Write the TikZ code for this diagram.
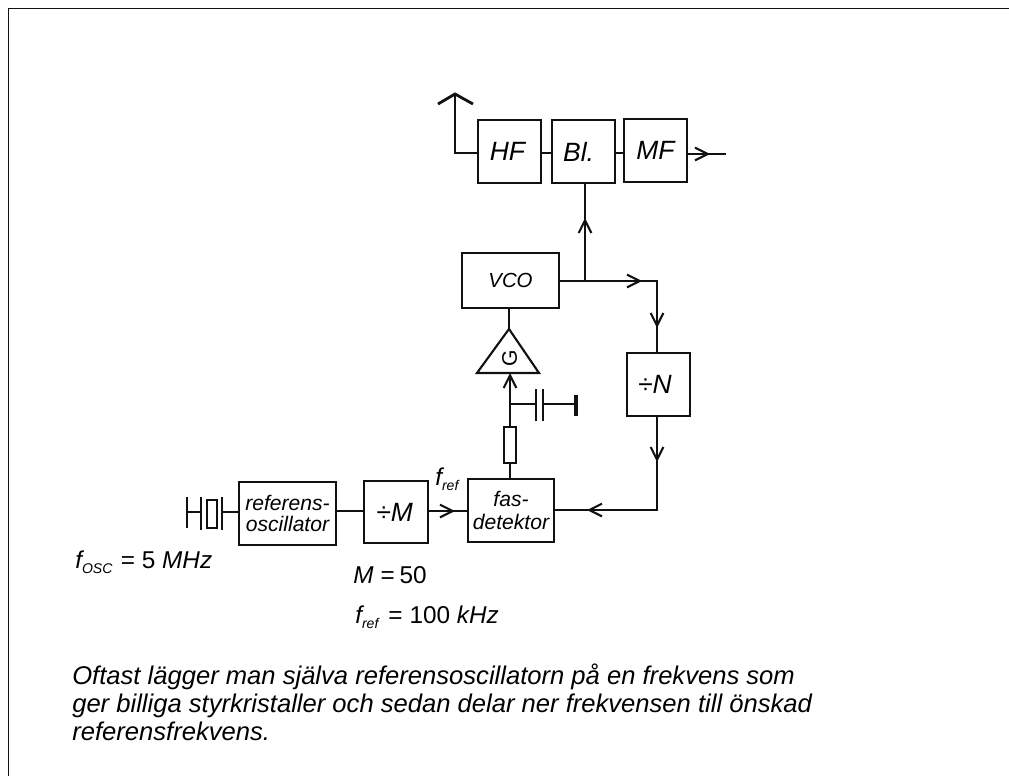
\documentclass[tikz,border=0pt]{standalone}
\usepackage{fontspec}
\setmainfont{Liberation Sans}
\usetikzlibrary{arrows.meta}
\definecolor{wireblack}{HTML}{111111}

\begin{document}
\begin{tikzpicture}[x=0.025cm,y=-0.025cm]
  \tikzset{
    wire/.style={draw=wireblack,line width=1.5pt},
    flow/.style={wire,-{Straight Barb[length=9pt,width=9pt]}},
    block/.style={wire,inner sep=0pt,align=center,font=\itshape\fontsize{18.8}{20}\selectfont},
    smallblock/.style={block,font=\itshape\fontsize{15}{15.4}\selectfont},
    formula/.style={anchor=base west,inner sep=0pt,font=\itshape\fontsize{17.3}{19}\selectfont},
    note/.style={anchor=base west,inner sep=0pt,font=\itshape\fontsize{18.2}{20}\selectfont},
  }
  \newcommand{\lowidx}[1]{\raisebox{-4pt}{\fontsize{10}{10}\selectfont #1}}
  \useasboundingbox (0,0) rectangle (1009,776);

  % Frame, runs off at the right and the bottom.
  \draw[wire,line width=0.9pt] (8.5,776) -- (8.5,8.5) -- (1009,8.5);

  % Receiver chain.
  \node[block,minimum width=63*0.71pt,minimum height=63*0.71pt] (hf) at (509.5,151.5) {HF\hspace{3pt}};
  \node[block,minimum width=63*0.71pt,minimum height=63*0.71pt] (bl) at (583.5,151.5) {Bl.\hspace{7pt}};
  \node[block,minimum width=63*0.71pt,minimum height=63*0.71pt] (mf) at (655.5,150.5) {MF};
  \node[smallblock,font=\itshape\fontsize{14.5}{15}\selectfont,minimum width=97*0.71pt,minimum height=55*0.71pt] (vco) at (510.5,280.5) {VCO};
  \node[block,minimum width=63*0.71pt,minimum height=63*0.71pt] (divn) at (658.5,384.5) {÷N\hspace{5pt}};

  % Reference branch.
  \node[smallblock,minimum width=97*0.71pt,minimum height=63*0.71pt] (refosc) at (287.5,513.5) {referens-\\oscillator};
  \node[block,minimum width=64*0.71pt,minimum height=62*0.71pt] (divm) at (396,512) {÷M\hspace{2pt}};
  \node[smallblock,font=\itshape\fontsize{15}{16.2}\selectfont,minimum width=86*0.71pt,minimum height=63*0.71pt] (fasdet) at (511,510.5) {fas-\\detektor\hspace{2pt}};

  % Amplifier.
  \coordinate (gtop) at (509,329);
  \coordinate (gleft) at (477,373);
  \coordinate (gright) at (539,373);
  \draw[wire,line join=miter] (gtop) -- (gright) -- (gleft) -- cycle;
  \node[rotate=90,inner sep=0pt,font=\fontsize{15}{15}\selectfont] (gain) at (509.5,358) {G};
  \draw[wire] (vco.south -| gtop) -- (gtop);

  % Loop filter.
  \node[wire,inner sep=0pt,minimum width=12*0.71pt,minimum height=36*0.71pt] (res) at (510,445) {};
  \coordinate (gin) at (510,373);
  \coordinate (capjoin) at (510,404);
  \coordinate (capa) at (536,404);
  \coordinate (capb) at (543,404);
  \coordinate (earth) at (574,404);
  \draw[wire] (fasdet.north -| res) -- (res.south);
  \draw[flow] (res.north) -- (gin);
  \draw[wire] (capjoin) -- (capa);
  \draw[wire] (capb) -- (earth);
  \draw[wire] (536,389) -- (536,421);
  \draw[wire] (543,389) -- (543,421);
  \draw[draw=wireblack,line width=3pt] (576,395) -- (576,416);

  % Antenna.
  \coordinate (anttop) at (455,94);
  \coordinate (antfoot) at (455,153);
  \draw[wire,line width=2pt] (438,104) -- (anttop) -- (473,104);
  \draw[wire] (anttop) -- (antfoot) -- (hf.west |- antfoot);

  % Signal path.
  \draw[wire] (hf.east |- antfoot) -- (bl.west |- antfoot);
  \draw[wire] (bl.east |- antfoot) -- (mf.west |- antfoot);
  \coordinate (outtip) at (710,154);
  \coordinate (outend) at (726,154);
  \draw[wire] (mf.east |- outtip) -- (outend);
  \draw[flow] (mf.east |- outtip) -- (outtip);

  % Oscillator to mixer and divider.
  \coordinate (vcojoin) at (585,281);
  \coordinate (bltip) at (585,218);
  \coordinate (vcotip) at (642,281);
  \coordinate (corner) at (657,281);
  \coordinate (ntip) at (657,328);
  \draw[wire] (vcojoin) -- (bl.south -| bltip);
  \draw[flow] (vcojoin) -- (bltip);
  \draw[wire] (vco.east |- vcojoin) -- (corner) -- (divn.north -| ntip);
  \draw[flow] (vco.east |- vcojoin) -- (vcotip);
  \draw[flow] (corner) -- (ntip);

  % Divider back to the phase detector.
  \coordinate (fbtip) at (657,462);
  \coordinate (fbcorner) at (657,510);
  \coordinate (dettip) at (587,510);
  \draw[wire] (divn.south -| fbtip) -- (fbcorner) -- (fasdet.east |- dettip);
  \draw[flow] (divn.south -| fbtip) -- (fbtip);
  \draw[flow] (fbcorner) -- (dettip);

  % Crystal.
  \coordinate (xa) at (187,512);
  \coordinate (xb) at (201,512);
  \coordinate (xc) at (222,512);
  \draw[wire] (187,497) -- (187,528);
  \draw[wire] (xa) -- (xb);
  \draw[wire] (201,497) -- (201,530);
  \draw[wire] (207,500) rectangle (217,528);
  \draw[wire] (222,497) -- (222,530);
  \draw[wire] (xc) -- (refosc.west |- xc);

  % Reference path.
  \coordinate (reftip) at (455,511);
  \draw[wire] (refosc.east |- reftip) -- (divm.west |- reftip);
  \draw[wire] (divm.east |- reftip) -- (fasdet.west |- reftip);
  \draw[flow] (divm.east |- reftip) -- (reftip);

  % Values.
  \node[formula] (fref) at (435,485) {f\lowidx{ref}};
  \node[formula] (fosc) at (75,568) {f\lowidx{OSC}\hspace{6pt}\upshape= 5 \itshape MHz};
  \node[formula] (mval) at (353,583) {M\hspace{5pt}\upshape=\hspace{3.5pt}50};
  \node[formula] (frefval) at (355,623) {f\lowidx{ref}\hspace{7pt}\upshape=\hspace{5pt}100 \itshape kHz};

  % Caption.
  \node[note] (linea) at (72,684) {Oftast lägger man själva referensoscillatorn på en frekvens som};
  \node[note] (lineb) at (72,712) {ger billiga styrkristaller och sedan delar ner frekvensen till önskad};
  \node[note] (linec) at (72,740) {referensfrekvens.};
\end{tikzpicture}
\end{document}
